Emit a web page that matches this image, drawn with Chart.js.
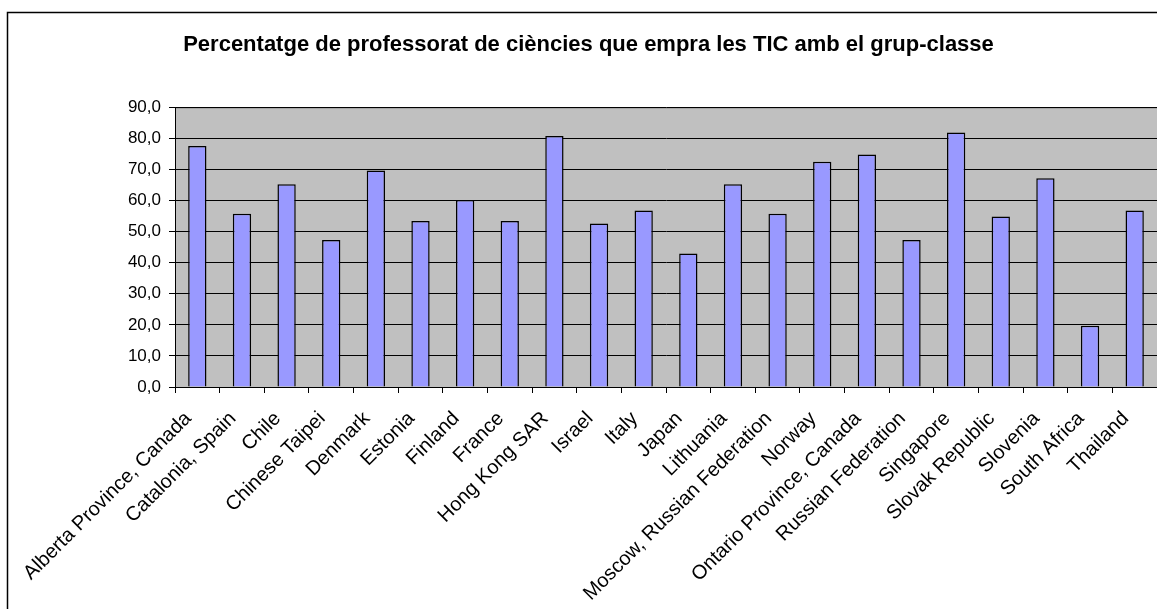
<!DOCTYPE html>
<html>
<head>
<meta charset="utf-8">
<script src="https://cdn.jsdelivr.net/npm/chart.js@4/dist/chart.umd.min.js"></script>
<style>
  html, body { margin: 0; padding: 0; background: #fff; }
  #wrap { width: 1157px; height: 609px; position: relative; }
</style>
</head>
<body>
<div id="wrap"><canvas id="chart"></canvas></div>
<script>
const countries = [
  'Alberta Province, Canada', 'Catalonia, Spain', 'Chile', 'Chinese Taipei',
  'Denmark', 'Estonia', 'Finland', 'France', 'Hong Kong SAR', 'Israel',
  'Italy', 'Japan', 'Lithuania', 'Moscow, Russian Federation', 'Norway',
  'Ontario Province, Canada', 'Russian Federation', 'Singapore',
  'Slovak Republic', 'Slovenia', 'South Africa', 'Thailand'
]
const percentages = [
  77.6, 55.8, 65.3, 47.3, 69.7, 53.4, 60.2, 53.4, 80.8, 52.6, 56.8,
  43.0, 65.3, 55.8, 72.5, 74.8, 47.3, 81.9, 54.9, 67.2, 19.7, 56.8
]
const yTicks = [0, 10, 20, 30, 40, 50, 60, 70, 80, 90]
const chartTitle = 'Percentatge de professorat de ciències que empra les TIC amb el grup-classe'

const fontFamily = 'Arial, "Liberation Sans", sans-serif'

// white page, outer frame and grey plot background
const backdrop = {
  id: 'backdrop',
  beforeDraw(chart) {
    const ctx = chart.ctx
    const a = chart.chartArea
    ctx.save()
    ctx.fillStyle = '#fff'
    ctx.fillRect(0, 0, chart.width, chart.height)
    ctx.strokeStyle = '#000'
    ctx.lineWidth = 1.5
    ctx.strokeRect(7.5, 12.5, chart.width + 20, chart.height + 20)
    ctx.fillStyle = '#c0c0c0'
    ctx.fillRect(a.left, a.top, a.right - a.left, a.bottom - a.top)
    ctx.strokeStyle = '#808080'
    ctx.lineWidth = 1
    ctx.strokeRect(a.left + 0.5, a.top + 0.5, a.right - a.left, a.bottom - a.top)
    ctx.restore()
  }
}

new Chart(document.getElementById('chart'), {
  type: 'bar',
  data: {
    labels: countries,
    datasets: [{
      data: percentages,
      backgroundColor: '#9999ff',
      borderColor: '#000',
      borderWidth: 1.5,
      barPercentage: 0.41,
      categoryPercentage: 1
    }]
  },
  options: {
    responsive: true,
    maintainAspectRatio: false,
    animation: false,
    layout: { padding: { left: 20, right: 0, top: 0, bottom: 0 } },
    plugins: {
      legend: { display: false },
      tooltip: { enabled: false },
      title: {
        display: true,
        text: chartTitle,
        color: '#000',
        font: { family: fontFamily, size: 22, weight: 'bold' },
        padding: { top: 32, bottom: 49 }
      }
    },
    scales: {
      x: {
        offset: true,
        grid: {
          offset: true,
          drawOnChartArea: false,
          drawTicks: true,
          tickLength: 6,
          color: '#000'
        },
        border: { color: '#000', width: 1 },
        ticks: {
          autoSkip: false,
          minRotation: 45,
          maxRotation: 45,
          color: '#000',
          padding: 14,
          labelOffset: -9,
          font: { family: fontFamily, size: 20 }
        },
        afterFit(scale) {
          scale.height = 222
          scale.paddingLeft = 0
          scale.paddingRight = 0
        }
      },
      y: {
        min: 0,
        max: 90,
        afterBuildTicks(scale) { scale.ticks = yTicks.map(v => ({ value: v })) },
        grid: {
          color: '#000',
          lineWidth: 1,
          drawTicks: true,
          tickLength: 6
        },
        border: { color: '#000', width: 1 },
        ticks: {
          color: '#000',
          padding: 8,
          font: { family: fontFamily, size: 17 },
          callback: (v) => Number(v).toFixed(1).replace('.', ',')
        },
        afterFit(scale) { scale.width = 155 }
      }
    }
  },
  plugins: [backdrop]
})
</script>
</body>
</html>
